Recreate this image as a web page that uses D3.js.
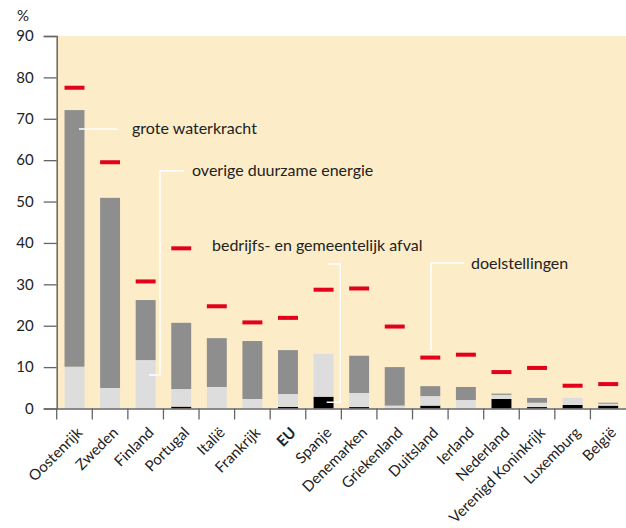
<!DOCTYPE html>
<html>
<head>
<meta charset="utf-8">
<script src="https://cdn.jsdelivr.net/npm/d3@7"></script>
<style>
  body { margin: 0; background: #fff; }
  text { font-family: Lato, "Noto Sans", sans-serif; fill: #222; }
</style>
</head>
<body>
<svg></svg>
<script>
// Data
var countries = ["Oostenrijk", "Zweden", "Finland", "Portugal", "Italië", "Frankrijk", "EU", "Spanje",
                 "Denemarken", "Griekenland", "Duitsland", "Ierland", "Nederland", "Verenigd Koninkrijk",
                 "Luxemburg", "België"];
var afval    = [0, 0, 0, 0.45, 0, 0, 0.4, 2.85, 0.35, 0, 0.7, 0, 2.3, 0.35, 0.85, 0.7];
var overige  = [10.1, 4.95, 11.7, 4.25, 5.2, 2.3, 3.1, 10.35, 3.4, 0.7, 2.3, 2.05, 1.0, 1.05, 1.7, 0.45];
var waterkracht = [62.0, 45.95, 14.5, 16.0, 11.8, 14.0, 10.6, 0, 9.0, 9.3, 2.4, 3.15, 0.3, 1.15, 0, 0.25];
var doelen   = [77.5, 59.5, 30.7, 38.7, 24.7, 20.8, 21.9, 28.7, 29.0, 19.8, 12.3, 13.0, 8.8, 9.8, 5.5, 5.9];
var yTicks = [0, 10, 20, 30, 40, 50, 60, 70, 80, 90];

// Layout
var width = 626;
var height = 528;
var plotLeft = 56.7, plotRight = 626, plotTop = 36, plotBottom = 408.5;

var svg = d3.select('svg')
    .attr('width', width)
    .attr('height', height);

var x = d3.scaleBand()
    .domain(countries)
    .range([plotLeft, plotRight]);

var y = d3.scaleLinear()
    .domain([0, 90])
    .range([plotBottom, plotTop]);

var barW = x.bandwidth() * 0.56;

// background
svg.append('rect')
    .attr('x', plotLeft).attr('y', plotTop)
    .attr('width', plotRight - plotLeft).attr('height', plotBottom - plotTop)
    .attr('fill', '#fdecc8');

// stacked bars
var rows = countries.map(function (c, i) {
    return { land: c, afval: afval[i], overige: overige[i], waterkracht: waterkracht[i] };
});
var keys = ["afval", "overige", "waterkracht"];
var colors = { afval: "#000000", overige: "#dddddd", waterkracht: "#8e8e8e" };
var stack = d3.stack().keys(keys)(rows);

svg.selectAll('g.layer')
    .data(stack)
    .enter().append('g')
    .attr('class', 'layer')
    .attr('fill', function (d) { return colors[d.key]; })
    .selectAll('rect')
    .data(function (d) { return d; })
    .enter().append('rect')
    .attr('x', function (d) { return x(d.data.land) + (x.bandwidth() - barW) / 2; })
    .attr('width', barW)
    .attr('y', function (d) { return y(d[1]); })
    .attr('height', function (d) { return Math.max(0, y(d[0]) - y(d[1])); });

// targets (doelstellingen)
svg.selectAll('rect.doel')
    .data(countries)
    .enter().append('rect')
    .attr('class', 'doel')
    .attr('x', function (d) { return x(d) + (x.bandwidth() - barW) / 2; })
    .attr('width', barW)
    .attr('y', function (d, i) { return y(doelen[i]) - 2; })
    .attr('height', 4)
    .attr('fill', '#e2001a');

// y axis
var yAxis = svg.append('g')
    .attr('transform', 'translate(' + plotLeft + ',0)')
    .call(d3.axisLeft(y).tickValues(yTicks).tickSize(13).tickPadding(10));
yAxis.select('.domain').attr('stroke', '#666').attr('stroke-width', 1.5);
yAxis.selectAll('.tick line').attr('stroke', '#666').attr('stroke-width', 1.3);
yAxis.selectAll('text')
    .style('font-family', 'Lato, "Noto Sans", sans-serif')
    .style('font-size', '15px')
    .attr('fill', '#222');

svg.append('text')
    .attr('x', 17).attr('y', 21)
    .style('font-size', '15px')
    .text('%');

// x axis
var xAxis = svg.append('g')
    .attr('transform', 'translate(0,' + plotBottom + ')')
    .call(d3.axisBottom(x).tickSize(0).tickFormat(''));
xAxis.select('.domain').attr('stroke', '#666').attr('stroke-width', 1.5);

svg.selectAll('line.xtick')
    .data(countries)
    .enter().append('line')
    .attr('class', 'xtick')
    .attr('x1', function (d) { return x(d); })
    .attr('x2', function (d) { return x(d); })
    .attr('y1', plotBottom).attr('y2', plotBottom + 11)
    .attr('stroke', '#666').attr('stroke-width', 1.3);

svg.selectAll('text.xlab')
    .data(countries)
    .enter().append('text')
    .attr('class', 'xlab')
    .attr('text-anchor', 'end')
    .attr('transform', function (d) {
        return 'translate(' + (x(d) + x.bandwidth() / 2 + 9) + ',' + (plotBottom + 25) + ') rotate(-45)';
    })
    .style('font-size', '15px')
    .style('font-weight', function (d) { return d === 'EU' ? 'bold' : 'normal'; })
    .text(function (d) { return d; });

// labels with leader lines
var labels = [
    { text: "grote waterkracht", tx: 132, ty: 134, path: [[79, 129], [118, 129]] },
    { text: "overige duurzame energie", tx: 192, ty: 176, path: [[184, 170.7], [160, 170.7], [160, 375], [149, 375]] },
    { text: "bedrijfs- en gemeentelijk afval", tx: 212, ty: 251, path: [[328.3, 264], [340.3, 264], [340.3, 402.3], [326.7, 402.3]] },
    { text: "doelstellingen", tx: 471, ty: 269, path: [[464.3, 263], [431, 263], [431, 350.7]] }
];

var line = d3.line();
svg.selectAll('path.leader')
    .data(labels)
    .enter().append('path')
    .attr('class', 'leader')
    .attr('d', function (d) { return line(d.path); })
    .attr('fill', 'none')
    .attr('stroke', '#fff')
    .attr('stroke-width', 1.5);

svg.selectAll('text.lab')
    .data(labels)
    .enter().append('text')
    .attr('class', 'lab')
    .attr('x', function (d) { return d.tx; })
    .attr('y', function (d) { return d.ty; })
    .style('font-size', '16px')
    .text(function (d) { return d.text; });
</script>
</body>
</html>
